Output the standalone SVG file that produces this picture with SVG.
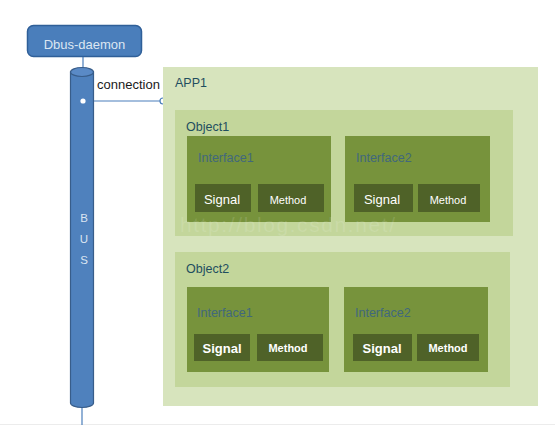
<svg xmlns="http://www.w3.org/2000/svg" width="555" height="427" viewBox="0 0 555 427">
<defs>
<style>
.t{font-family:"Liberation Sans",Arial,sans-serif}
.app{fill:#d7e4bd}
.obj{fill:#c3d69b}
.itf{fill:#77933c}
.sm{fill:#4f6228}
.lbl{font-family:"Liberation Sans",Arial,sans-serif;font-size:12.5px;fill:#1f4e5f}
.ilbl{font-family:"Liberation Sans",Arial,sans-serif;font-size:12.5px;fill:#41687c}
.sig{font-family:"Liberation Sans",Arial,sans-serif;font-size:13px;fill:#ffffff;text-anchor:middle}
.met{font-family:"Liberation Sans",Arial,sans-serif;font-size:11px;fill:#ffffff;text-anchor:middle}
.bus{font-family:"Liberation Sans",Arial,sans-serif;font-size:11.5px;fill:#dbe5f1;text-anchor:middle}
</style>
</defs>
<rect width="555" height="427" fill="#ffffff"/>
<line x1="0" y1="424.5" x2="555" y2="424.5" stroke="#ececec" stroke-width="1"/>

<g id="connectors" fill="none" stroke="#4a7ebb" stroke-width="1.2">
<line x1="83" y1="57" x2="83" y2="68"/>
<line x1="82" y1="407" x2="82" y2="425"/>
<line x1="86" y1="101" x2="160" y2="101"/>
<circle cx="163" cy="101" r="3" fill="#ffffff" stroke="#4a7ebb"/>
</g>

<g id="dbus-daemon">
<rect x="27.5" y="25.5" width="114" height="31" rx="6" fill="#4a7ebb" stroke="#2f5f98" stroke-width="1.5"/>
<text class="t" x="84.5" y="49" font-size="13" fill="#dce6f2" text-anchor="middle">Dbus-daemon</text>
</g>

<g id="bus">
<path d="M70.5 72 L70.5 403 A11.5 4.5 0 0 0 93.5 403 L93.5 72 Z" fill="#4f81bd" stroke="#385d8a" stroke-width="1.2"/>
<ellipse cx="82" cy="72" rx="11.5" ry="4.5" fill="#5a8ac6" stroke="#385d8a" stroke-width="1.2"/>
<circle cx="83" cy="101" r="2.6" fill="#ffffff"/>
<text class="bus" x="84" y="222">B</text>
<text class="bus" x="84" y="243">U</text>
<text class="bus" x="84" y="264">S</text>
</g>

<text class="t" x="97" y="89" font-size="13" fill="#1a1a1a">connection</text>

<g id="app1">
<rect class="app" x="163" y="67" width="375" height="339"/>
<text class="lbl" x="175" y="87">APP1</text>
</g>

<g id="object1">
<rect class="obj" x="175" y="110" width="338" height="126"/>
<text class="lbl" x="186" y="131">Object1</text>
</g>

<g id="o1-interface1">
<rect class="itf" x="187" y="136" width="144" height="86"/>
<text class="ilbl" x="198" y="162">Interface1</text>
<rect class="sm" x="195" y="184" width="56" height="28"/>
<text class="sig" x="222" y="204">Signal</text>
<rect class="sm" x="258" y="184" width="66" height="28"/>
<text class="met" x="288" y="204">Method</text>
</g>

<g id="o1-interface2">
<rect class="itf" x="345" y="136" width="145" height="86"/>
<text class="ilbl" x="356" y="162">Interface2</text>
<rect class="sm" x="354" y="184" width="59" height="28"/>
<text class="sig" x="382" y="204">Signal</text>
<rect class="sm" x="418" y="184" width="62" height="28"/>
<text class="met" x="448" y="204">Method</text>
</g>

<g id="object2">
<rect class="obj" x="175" y="252" width="335" height="135"/>
<text class="lbl" x="186" y="273">Object2</text>
</g>

<g id="o2-interface1">
<rect class="itf" x="187" y="287" width="142" height="85"/>
<text class="ilbl" x="197" y="317">Interface1</text>
<rect class="sm" x="194" y="334" width="56" height="27"/>
<text class="sig" x="222" y="353" font-weight="bold" font-size="13.5">Signal</text>
<rect class="sm" x="257" y="334" width="66" height="27"/>
<text class="met" x="288" y="352" font-weight="bold">Method</text>
</g>

<g id="o2-interface2">
<rect class="itf" x="344" y="287" width="144" height="85"/>
<text class="ilbl" x="355" y="317">Interface2</text>
<rect class="sm" x="353" y="334" width="59" height="27"/>
<text class="sig" x="382" y="353" font-weight="bold" font-size="13.5">Signal</text>
<rect class="sm" x="417" y="334" width="62" height="27"/>
<text class="met" x="448" y="352" font-weight="bold">Method</text>
</g>

<text class="t" x="180" y="232" font-size="21" fill="#ffffff" fill-opacity="0.12" textLength="215">http://blog.csdn.net/</text>
</svg>
